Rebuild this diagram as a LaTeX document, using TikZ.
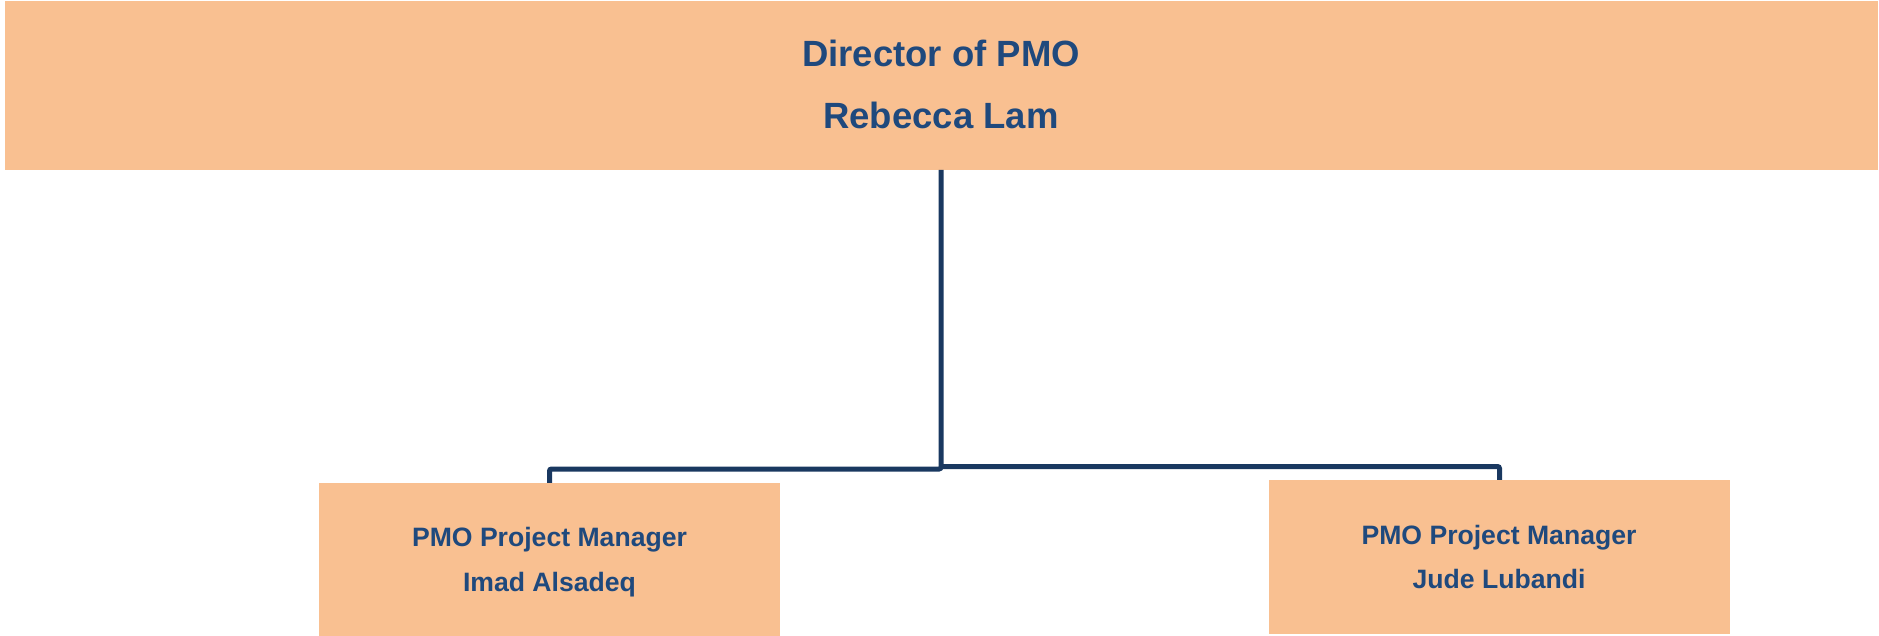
\documentclass[tikz,border=0pt]{standalone}
\usepackage{fontspec}
\setmainfont{Liberation Sans}
\definecolor{boxfill}{RGB}{249,192,145}
\definecolor{txtblue}{RGB}{31,73,125}
\definecolor{linkblue}{RGB}{25,56,96}
\begin{document}
\begin{tikzpicture}[x=1pt,y=-1pt,
  orgbox/.style={fill=boxfill,draw=none,inner sep=0pt},
  bigtxt/.style={anchor=base,text=txtblue,font=\fontsize{36.5}{40}\selectfont\bfseries,inner sep=0pt},
  smalltxt/.style={anchor=base,text=txtblue,font=\fontsize{26.6}{30}\selectfont\bfseries,inner sep=0pt},
  link/.style={draw=linkblue,line width=5pt,rounded corners=2pt}]
\useasboundingbox (0,0) rectangle (1879,635);
% boxes
\node[orgbox,minimum width=1873pt,minimum height=168.7pt] (dir) at (941.5,85.35) {};
\node[orgbox,minimum width=461pt,minimum height=153pt] (pm1) at (549.5,559.5) {};
\node[orgbox,minimum width=461pt,minimum height=154pt] (pm2) at (1499.5,557) {};
% texts
\node[bigtxt] (dirT1) at (941,66.7) {Director of PMO};
\node[bigtxt] (dirT2) at (941,128.3) {Rebecca Lam};
\node[smalltxt] (pm1T1) at (549.5,546) {PMO Project Manager};
\node[smalltxt] (pm1T2) at (549.5,591) {Imad Alsadeq};
\node[smalltxt] (pm2T1) at (1499,544) {PMO Project Manager};
\node[smalltxt] (pm2T2) at (1499,588.3) {Jude Lubandi};
% connectors
\coordinate (jL) at (941,469);
\coordinate (jR) at (941,466.5);
\draw[link] (dir.south -| jL) -- (jL) -| (pm1.north);
\draw[link] (jR) -| (pm2.north);
\end{tikzpicture}
\end{document}
